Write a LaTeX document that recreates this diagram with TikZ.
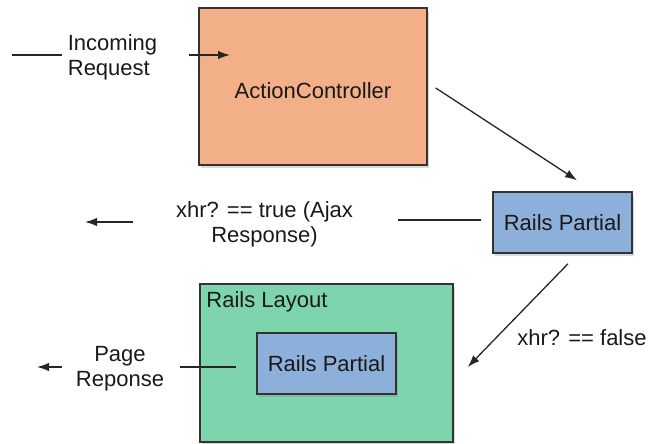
\documentclass[tikz,border=0pt]{standalone}
\usepackage{fontspec}
\setmainfont{Liberation Sans}
\usetikzlibrary{arrows.meta,shadows,calc}

\definecolor{orangefill}{HTML}{F3AF88}
\definecolor{bluefill}{HTML}{8DB0DA}
\definecolor{greenfill}{HTML}{7ED5AD}

\begin{document}
\begin{tikzpicture}
		[x=1pt, y=-1pt,
		every node/.style={font=\fontsize{22}{25}\selectfont, text=black!90},
		box/.style={draw=black!80, line width=1.5pt, inner sep=0pt,
		  drop shadow={shadow xshift=2pt, shadow yshift=-3pt, opacity=0.3}},
		controller/.style={box, fill=orangefill, minimum width=228pt, minimum height=157pt},
		partial/.style={box, fill=bluefill, minimum width=139pt, minimum height=61pt},
		layout/.style={box, fill=greenfill, minimum width=253pt, minimum height=158pt},
		note/.style={align=center, inner sep=0pt},
		link/.style={line width=1.3pt, black!85},
		flow/.style={link, -{Latex[length=12pt,width=8.5pt]}}
		]

		\useasboundingbox (0,0) rectangle (650,444);

		% boxes
		\node[controller, text height=23pt, text depth=0pt] (ac) at (313,86.5) {ActionController};
		\node[partial] (rp1) at (562.5,222.5) {Rails Partial};
		\node[layout] (layout) at (326.5,363) {};
		\node[anchor=north west, inner sep=0pt] (layouttitle) at ($(layout.north west)+(7,8)$) {Rails Layout};
		\node[partial] (rp2) at (326.5,363.5) {Rails Partial};

		% texts
		\node[note, align=left] (request) at (112.5,57) {Incoming\\Request};
		\node[note] (ajax) at (264.5,224) {xhr? == true (Ajax\\Response)};
		\node[note] (page) at (120,369) {Page\\Reponse};
		\node[note] (false) at (582,338) {xhr? == false};

		% free ends
		\coordinate (inbegin) at (12,55);
		\coordinate (reqtip) at (230,55);
		\coordinate (ajaxtip) at (85,222);
		\coordinate (pagetip) at (37,367);

		% incoming request
		\draw[link, shorten >=6pt] (inbegin) -- (inbegin -| request.west);
		\draw[flow, shorten <=32pt] (inbegin -| request.east) -- (reqtip);

		% controller to partial
		\draw[flow] ($(ac.east)+(8,1.5)$) -- ($(rp1.north)+(14.5,-11)$);

		% ajax response
		\draw[link, shorten <=11pt, shorten >=45pt] ($(rp1.west)+(0,-2.5)$) -- ($(rp1.west -| ajax.east)+(0,-2.5)$);
		\draw[flow, shorten <=43pt] (ajaxtip -| ajax.west) -- (ajaxtip);

		% page response
		\draw[flow] ($(rp1.south)+(5.5,10)$) -- ($(layout.east)+(14,4)$);
		\draw[link, shorten <=20pt, shorten >=16pt] ($(rp2.west)+(0,3.5)$) -- ($(rp2.west -| page.east)+(0,3.5)$);
		\draw[flow, shorten <=14pt] (pagetip -| page.west) -- (pagetip);

\end{tikzpicture}
\end{document}
